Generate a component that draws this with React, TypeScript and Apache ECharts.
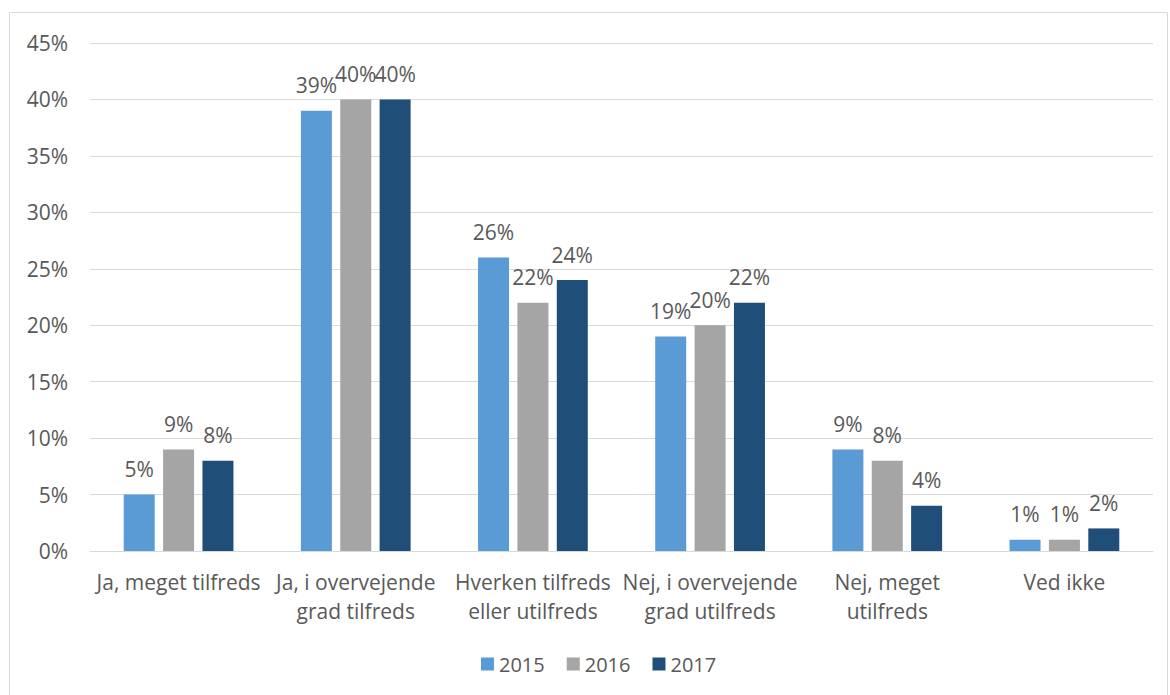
import React, { useEffect, useRef } from "react";
import * as echarts from "echarts";

const categories = [
  "Ja, meget tilfreds",
  "Ja, i overvejende\ngrad tilfreds",
  "Hverken tilfreds\neller utilfreds",
  "Nej, i overvejende\ngrad utilfreds",
  "Nej, meget\nutilfreds",
  "Ved ikke",
];
const years = ["2015", "2016", "2017"];
const values2015 = [5, 39, 26, 19, 9, 1];
const values2016 = [9, 40, 22, 20, 8, 1];
const values2017 = [8, 40, 24, 22, 4, 2];
const colors = ["#5b9bd5", "#a5a5a5", "#1f4e79"];

const FONT = "'Open Sans', sans-serif";
const TXT = "#595959";
const FS = 21;

export default function App() {
  const ref = useRef<HTMLDivElement>(null);
  useEffect(() => {
    const chart = echarts.init(ref.current!, null, { renderer: "svg" });
    const data = [values2015, values2016, values2017];
    chart.setOption({
      animation: false,
      textStyle: { fontFamily: FONT },
      graphic: [
        {
          type: "rect",
          shape: { x: 9.5, y: 12.5, width: 1158, height: 700 },
          style: { fill: "none", stroke: "#d9d9d9", lineWidth: 1 },
          silent: true,
        },
      ],
      grid: { left: 90, right: 17, top: 43, bottom: 144 },
      legend: {
        bottom: 16,
        left: 476,
        itemWidth: 13,
        itemHeight: 13,
        itemGap: 22,
        icon: "rect",
        textStyle: { color: TXT, fontSize: 20, fontFamily: FONT },
        data: years,
      },
      xAxis: {
        type: "category",
        data: categories,
        axisLine: { lineStyle: { color: "#d9d9d9", width: 1 } },
        axisTick: { show: false },
        axisLabel: {
          color: TXT,
          fontSize: FS,
          lineHeight: 29,
          margin: 16,
          interval: 0,
          fontFamily: FONT,
        },
      },
      yAxis: {
        type: "value",
        min: 0,
        max: 45,
        interval: 5,
        axisLabel: {
          formatter: "{value}%",
          color: TXT,
          fontSize: FS,
          margin: 22,
          fontFamily: FONT,
        },
        splitLine: { lineStyle: { color: "#d9d9d9", width: 1 } },
        axisLine: { show: false },
        axisTick: { show: false },
      },
      series: years.map((y, i) => ({
        name: y,
        type: "bar",
        data: data[i],
        barWidth: 31,
        barGap: "27%",
        itemStyle: { color: colors[i] },
        label: {
          show: true,
          position: "top",
          distance: 15,
          formatter: "{c}%",
          color: TXT,
          fontSize: FS,
          fontFamily: FONT,
        },
      })),
    });
    return () => chart.dispose();
  }, []);
  return (
    <div
      ref={ref}
      style={{ position: "absolute", left: 0, top: 0, width: 1170, height: 695 }}
    />
  );
}
